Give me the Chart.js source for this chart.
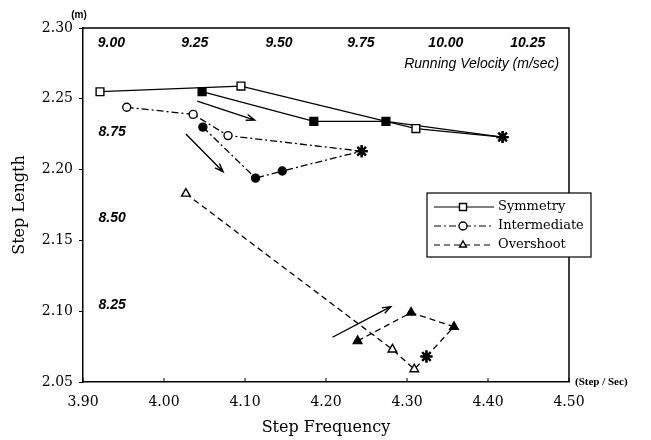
<!DOCTYPE html>
<html>
<head>
<meta charset="utf-8">
<script src="https://cdn.jsdelivr.net/npm/chart.js"></script>
<style>
  body { margin: 0; background: #fff; }
</style>
</head>
<body>
<canvas id="stepChart" width="651" height="440"></canvas>
<script>
  // axis ticks
  const xTickValues = [3.90, 4.00, 4.10, 4.20, 4.30, 4.40, 4.50];
  const yTickValues = [2.05, 2.10, 2.15, 2.20, 2.25, 2.30];

  // series [step frequency, step length]; last point of each = end marker (asterisk)
  const symOpen = [[3.921, 2.255], [4.095, 2.259], [4.311, 2.229], [4.418, 2.223]];
  const symSolid = [[4.047, 2.255], [4.185, 2.234], [4.274, 2.234], [4.418, 2.223]];
  const intOpen = [[3.954, 2.244], [4.036, 2.239], [4.079, 2.224], [4.244, 2.213]];
  const intSolid = [[4.048, 2.230], [4.113, 2.194], [4.146, 2.199], [4.244, 2.213]];
  const ovOpen = [[4.027, 2.183], [4.282, 2.073], [4.309, 2.059], [4.324, 2.068]];
  const ovSolid = [[4.239, 2.079], [4.305, 2.099], [4.358, 2.089], [4.324, 2.068]];

  // arrows [x1, y1, x2, y2] in data units
  const arrows = [
    [4.041, 2.2484, 4.112, 2.2350],
    [4.027, 2.2251, 4.073, 2.1985],
    [4.208, 2.0816, 4.280, 2.1032]
  ];

  // running velocity labels
  const velTop = ['9.00', '9.25', '9.50', '9.75', '10.00', '10.25'];
  const velTopX = [3.935, 4.038, 4.142, 4.243, 4.348, 4.449];
  const velLeft = ['8.75', '8.50', '8.25'];
  const velLeftY = [2.2266, 2.1658, 2.1044];

  const legendItems = ['Symmetry', 'Intermediate', 'Overshoot'];

  const pts = arr => arr.map(p => ({ x: p[0], y: p[1] }));

  function series(arr, shape, fill, dash) {
    const n = arr.length;
    return {
      data: pts(arr),
      showLine: true,
      borderColor: '#000',
      borderWidth: 1.3,
      borderDash: dash,
      pointStyle: arr.map((p, i) => i === n - 1 ? 'star' : shape),
      pointRadius: arr.map((p, i) => i === n - 1 ? 6 : (shape === 'rect' ? 5.5 : shape === 'triangle' ? 5 : 4)),
      pointBorderWidth: arr.map((p, i) => i === n - 1 ? 2.2 : 1.4),
      pointBackgroundColor: fill,
      pointBorderColor: '#000'
    };
  }

  const dashDot = [7, 3, 2, 3];
  const dashed = [6, 4];

  const annot = {
    id: 'annot',
    afterDraw(chart) {
      const { ctx, chartArea: a, scales: { x, y } } = chart;
      ctx.save();
      ctx.strokeStyle = '#000';
      ctx.fillStyle = '#000';

      // top and right frame
      ctx.lineWidth = 1.5;
      ctx.beginPath();
      ctx.moveTo(a.left, a.top);
      ctx.lineTo(a.right, a.top);
      ctx.lineTo(a.right, a.bottom);
      ctx.stroke();

      // inward ticks on x axis
      ctx.lineWidth = 1;
      xTickValues.forEach(v => {
        const px = x.getPixelForValue(v);
        ctx.beginPath();
        ctx.moveTo(px, a.bottom);
        ctx.lineTo(px, a.bottom - 4);
        ctx.stroke();
      });

      // arrows
      ctx.lineWidth = 1.4;
      arrows.forEach(r => {
        const x1 = x.getPixelForValue(r[0]), y1 = y.getPixelForValue(r[1]);
        const x2 = x.getPixelForValue(r[2]), y2 = y.getPixelForValue(r[3]);
        const ang = Math.atan2(y2 - y1, x2 - x1);
        ctx.beginPath();
        ctx.moveTo(x1, y1);
        ctx.lineTo(x2, y2);
        ctx.moveTo(x2 - 9 * Math.cos(ang - 0.35), y2 - 9 * Math.sin(ang - 0.35));
        ctx.lineTo(x2, y2);
        ctx.lineTo(x2 - 9 * Math.cos(ang + 0.35), y2 - 9 * Math.sin(ang + 0.35));
        ctx.stroke();
      });

      // velocity labels
      ctx.font = 'bold italic 14px "Liberation Sans", Arial, sans-serif';
      ctx.textAlign = 'center';
      ctx.textBaseline = 'middle';
      velTop.forEach((t, i) => ctx.fillText(t, x.getPixelForValue(velTopX[i]), y.getPixelForValue(2.2894)));
      velLeft.forEach((t, i) => ctx.fillText(t, x.getPixelForValue(3.936), y.getPixelForValue(velLeftY[i])));
      ctx.font = 'italic 14px "Liberation Sans", Arial, sans-serif';
      ctx.textAlign = 'right';
      ctx.fillText('Running Velocity (m/sec)', x.getPixelForValue(4.488), y.getPixelForValue(2.2744));

      // units
      ctx.font = 'bold 10px "Liberation Sans", Arial, sans-serif';
      ctx.textAlign = 'center';
      ctx.fillText('(m)', a.left - 4, a.top - 13);
      ctx.font = 'bold 11px "Liberation Serif", serif';
      ctx.textAlign = 'left';
      ctx.fillText('(Step / Sec)', a.right + 6, a.bottom);

      // legend
      const lx = 427, ly = 193, lw = 164, lh = 64;
      ctx.fillStyle = '#fff';
      ctx.fillRect(lx, ly, lw, lh);
      ctx.lineWidth = 1.2;
      ctx.strokeRect(lx, ly, lw, lh);
      const rows = [207, 226, 245];
      const styles = [[[], 'rect'], [dashDot, 'circle'], [dashed, 'triangle']];
      rows.forEach((ry, i) => {
        ctx.strokeStyle = '#000';
        ctx.lineWidth = 1.2;
        ctx.setLineDash(styles[i][0]);
        ctx.beginPath();
        ctx.moveTo(434, ry);
        ctx.lineTo(494, ry);
        ctx.stroke();
        ctx.setLineDash([]);
        ctx.fillStyle = '#fff';
        ctx.lineWidth = 1.4;
        Chart.helpers.drawPoint(ctx, { pointStyle: styles[i][1], radius: styles[i][1] === 'rect' ? 5 : 4, rotation: 0, borderWidth: 1.4 }, 463, ry);
        ctx.fillStyle = '#000';
        ctx.font = '13px "DejaVu Serif", serif';
        ctx.textAlign = 'left';
        ctx.fillText(legendItems[i], 498, ry);
      });
      ctx.restore();
    }
  };

  const ctx = document.getElementById('stepChart');
  const stepChart = new Chart(ctx, {
    type: 'scatter',
    data: {
      datasets: [
        series(symOpen, 'rect', '#fff', []),
        series(symSolid, 'rect', '#000', []),
        series(intOpen, 'circle', '#fff', dashDot),
        series(intSolid, 'circle', '#000', dashDot),
        series(ovOpen, 'triangle', '#fff', dashed),
        series(ovSolid, 'triangle', '#000', dashed)
      ]
    },
    options: {
      responsive: false,
      animation: false,
      devicePixelRatio: 1,
      layout: { padding: { top: 28, right: 82, left: 0, bottom: 0 } },
      plugins: { legend: { display: false }, tooltip: { enabled: false } },
      scales: {
        x: {
          type: 'linear',
          min: 3.9,
          max: 4.5,
          afterBuildTicks: s => { s.ticks = xTickValues.map(v => ({ value: v })); },
          afterFit: s => { s.height = 58; },
          ticks: {
            callback: v => Number(v).toFixed(2),
            color: '#000',
            font: { family: '"DejaVu Serif", serif', size: 14 },
            padding: 4,
            maxRotation: 0
          },
          grid: { display: false },
          border: { color: '#000', width: 1.5 },
          title: {
            display: true,
            text: 'Step Frequency',
            color: '#000',
            font: { family: '"DejaVu Serif", serif', size: 16 },
            padding: { top: 0, bottom: 3 }
          }
        },
        y: {
          type: 'linear',
          min: 2.05,
          max: 2.30,
          afterBuildTicks: s => { s.ticks = yTickValues.map(v => ({ value: v })); },
          afterFit: s => { s.width = 83; },
          ticks: {
            callback: v => Number(v).toFixed(2),
            color: '#000',
            font: { family: '"DejaVu Serif", serif', size: 14 },
            padding: 6
          },
          grid: { drawOnChartArea: false, drawTicks: true, tickLength: 4, color: '#000' },
          border: { color: '#000', width: 1.5 },
          title: {
            display: true,
            text: 'Step Length',
            color: '#000',
            font: { family: '"DejaVu Serif", serif', size: 16 },
            padding: { top: 10, bottom: 0 }
          }
        }
      }
    },
    plugins: [annot]
  });
</script>
</body>
</html>
